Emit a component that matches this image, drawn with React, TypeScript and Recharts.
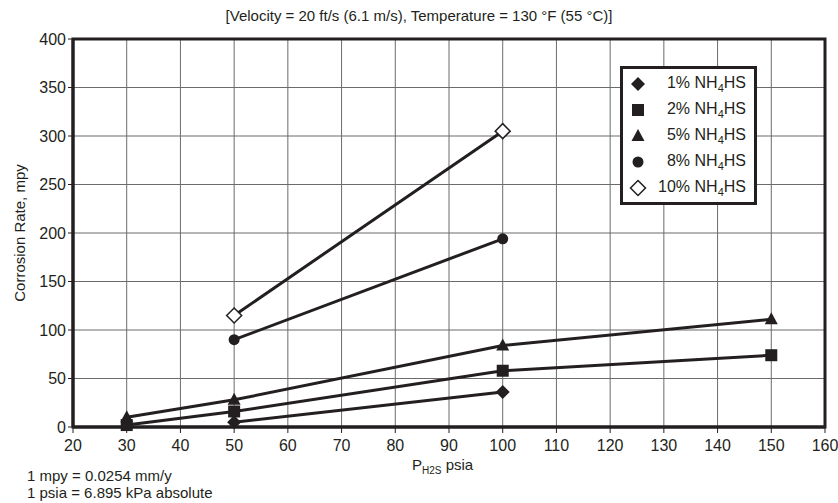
import React from "react";
import {
  LineChart,
  Line,
  XAxis,
  YAxis,
  CartesianGrid,
  ReferenceArea,
} from "recharts";

const xTicks = [20, 30, 40, 50, 60, 70, 80, 90, 100, 110, 120, 130, 140, 150, 160];
const yTicks = [0, 50, 100, 150, 200, 250, 300, 350, 400];

const nh1 = [
  { p: 50, rate: 5 },
  { p: 100, rate: 36 },
];
const nh2 = [
  { p: 30, rate: 2 },
  { p: 50, rate: 16 },
  { p: 100, rate: 58 },
  { p: 150, rate: 74 },
];
const nh5 = [
  { p: 30, rate: 10 },
  { p: 50, rate: 28 },
  { p: 100, rate: 84 },
  { p: 150, rate: 111 },
];
const nh8 = [
  { p: 50, rate: 90 },
  { p: 100, rate: 194 },
];
const nh10 = [
  { p: 50, rate: 115 },
  { p: 100, rate: 305 },
];

const seriesNames = ["1%", "2%", "5%", "8%", "10%"];
const ink = "#231f20";
const font = "'Liberation Sans', Arial, sans-serif";

function Marker({ kind, cx, cy }: { kind: string; cx: number; cy: number }) {
  if (kind === "1%")
    return <path d={`M${cx},${cy - 7} L${cx + 7},${cy} L${cx},${cy + 7} L${cx - 7},${cy} Z`} fill={ink} />;
  if (kind === "2%") return <rect x={cx - 6} y={cy - 6} width={12} height={12} fill={ink} />;
  if (kind === "5%")
    return <path d={`M${cx},${cy - 7} L${cx + 6.5},${cy + 5} L${cx - 6.5},${cy + 5} Z`} fill={ink} />;
  if (kind === "8%") return <circle cx={cx} cy={cy} r={5.5} fill={ink} />;
  return (
    <path
      d={`M${cx},${cy - 7.5} L${cx + 7.5},${cy} L${cx},${cy + 7.5} L${cx - 7.5},${cy} Z`}
      fill="#fff"
      stroke={ink}
      strokeWidth={1.5}
    />
  );
}

const dotFor = (kind: string) => (props: any) =>
  <Marker key={`${kind}-${props.index}`} kind={kind} cx={props.cx} cy={props.cy} />;

function LegendBox() {
  return (
    <div
      style={{
        position: "absolute",
        left: 620,
        top: 66,
        width: 137,
        boxSizing: "border-box",
        border: `3px solid ${ink}`,
        background: "#fff",
        padding: "2px 8px 1px 6px",
        fontFamily: font,
        fontSize: 16,
        color: ink,
      }}
    >
      {seriesNames.map((n) => (
        <div key={n} style={{ display: "flex", alignItems: "center", height: 26 }}>
          <svg width={18} height={18} style={{ marginRight: 4 }}>
            <Marker kind={n} cx={9} cy={9} />
          </svg>
          <span style={{ flex: 1, textAlign: "right", whiteSpace: "nowrap" }}>
            {n} NH<sub style={{ fontSize: 11 }}>4</sub>HS
          </span>
        </div>
      ))}
    </div>
  );
}

export default function App() {
  return (
    <div style={{ position: "absolute", left: 0, top: 0, width: 838, height: 503, background: "#fff", fontFamily: font }}>
      <div style={{ position: "absolute", top: 7, left: 0, width: 838, textAlign: "center", fontSize: 15, color: ink }}>
        [Velocity = 20 ft/s (6.1 m/s), Temperature = 130 °F (55 °C)]
      </div>
      <LineChart width={838} height={503} margin={{ top: 39, right: 13, left: 28, bottom: 46 }}>
        <CartesianGrid stroke="#6b6b6b" strokeWidth={1} horizontalValues={yTicks} verticalValues={xTicks} />
        <XAxis
          type="number"
          dataKey="p"
          domain={[20, 160]}
          ticks={xTicks}
          interval={0}
          height={30}
          axisLine={{ stroke: ink, strokeWidth: 3 }}
          tickLine={{ stroke: ink, strokeWidth: 1 }}
          tickSize={6}
          tickMargin={7}
          tick={{ fontSize: 16, fill: ink, fontFamily: font }}
        />
        <YAxis
          type="number"
          domain={[0, 400]}
          ticks={yTicks}
          interval={0}
          width={45}
          axisLine={{ stroke: ink, strokeWidth: 3 }}
          tickLine={{ stroke: ink, strokeWidth: 1 }}
          tickSize={5}
          tickMargin={2}
          tick={{ fontSize: 16, fill: ink, fontFamily: font }}
        />
        <ReferenceArea x1={20} x2={160} y1={0} y2={400} fill="none" stroke={ink} strokeWidth={3} ifOverflow="visible" />
        <Line data={nh1} dataKey="rate" name="1%" stroke={ink} strokeWidth={3} dot={dotFor("1%")} isAnimationActive={false} />
        <Line data={nh2} dataKey="rate" name="2%" stroke={ink} strokeWidth={3} dot={dotFor("2%")} isAnimationActive={false} />
        <Line data={nh5} dataKey="rate" name="5%" stroke={ink} strokeWidth={3} dot={dotFor("5%")} isAnimationActive={false} />
        <Line data={nh8} dataKey="rate" name="8%" stroke={ink} strokeWidth={3} dot={dotFor("8%")} isAnimationActive={false} />
        <Line data={nh10} dataKey="rate" name="10%" stroke={ink} strokeWidth={3} dot={dotFor("10%")} isAnimationActive={false} />
      </LineChart>
      <LegendBox />
      <div
        style={{
          position: "absolute",
          left: 19,
          top: 233,
          transform: "translate(-50%, -50%) rotate(-90deg)",
          whiteSpace: "nowrap",
          fontSize: 15,
          color: ink,
        }}
      >
        Corrosion Rate, mpy
      </div>
      <div style={{ position: "absolute", left: 412, top: 456, fontSize: 15, color: ink, whiteSpace: "nowrap" }}>
        P<sub style={{ fontSize: 10 }}>H2S</sub> psia
      </div>
      <div style={{ position: "absolute", left: 27, top: 467, fontSize: 15, lineHeight: "17px", color: ink }}>
        <div>1 mpy = 0.0254 mm/y</div>
        <div>1 psia = 6.895 kPa absolute</div>
      </div>
    </div>
  );
}
